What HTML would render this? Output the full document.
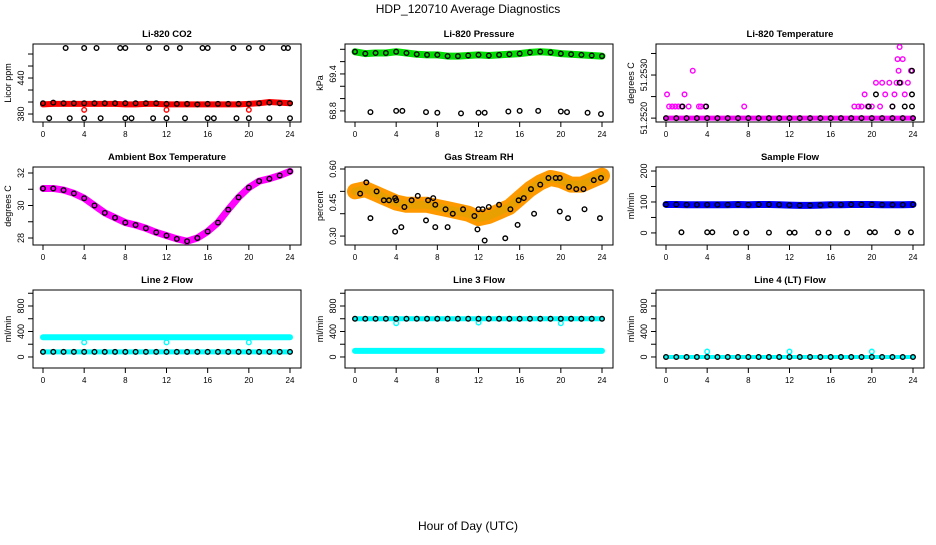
<!DOCTYPE html>
<html><head><meta charset="utf-8"><style>
body{margin:0;background:#fff;}
svg{font-family:"Liberation Sans",sans-serif;}
</style></head><body>
<svg id="c" width="936" height="540" viewBox="0 0 936 540">
<text x="468" y="13" text-anchor="middle" font-size="12">HDP_120710  Average Diagnostics</text>
<text x="468" y="530" text-anchor="middle" font-size="12">Hour of Day (UTC)</text>
</svg>
<script>
const hours=[0,1,2,3,4,5,6,7,8,9,10,11,12,13,14,15,16,17,18,19,20,21,22,23,24];
const xTicks=[0,4,8,12,16,20,24];
// CO2
const co2Band=[396,397,397,397,397,397,397,397,396,396,397,397,396,396,396,396,396,396,396,396,397,398,400,399,398];
const co2Black=[398,399,398,398,398,398,398,398,398,398,398,398,397,397,397,396,397,397,397,397,397,398,399,398,398];
const co2HiH=[2.2,4,5.2,7.5,8,10.3,12,13.3,15.5,16,18.5,20,21.3,23.4,23.8];
const co2LoH=[0.6,2.6,4,5.6,8,8.6,10.7,12,13.8,16,16.6,18.8,20,22,24];
const co2Hi=490, co2Lo=373;
const co2RedOutH=[4,12,20]; const co2RedOut=[387,387,387];
// Pressure
const presBand=[69.76,69.73,69.74,69.74,69.76,69.74,69.72,69.71,69.71,69.69,69.69,69.70,69.71,69.70,69.71,69.72,69.73,69.75,69.76,69.75,69.73,69.72,69.71,69.70,69.69];
const presOutH=[1.5,4,4.6,6.9,8,10.3,12,12.6,14.9,16,17.8,20,20.6,22.6,23.9];
const presOut=[68.78,68.8,68.8,68.78,68.77,68.76,68.77,68.77,68.79,68.8,68.8,68.79,68.78,68.77,68.75];
// Li-820 temperature
const tBase=51.2520;
const tMagH=[0.1,0.3,0.6,0.9,1.2,1.5,1.8,2.2,2.6,3.2,3.4,3.8,7.6,18.3,18.7,19.0,19.3,19.6,20.0,20.4,20.8,21.0,21.3,21.7,22.0,22.2,22.4,22.5,22.6,22.7,22.8,23.0,23.2,23.5,23.8];
const tMag=[51.25255,51.25227,51.25227,51.25227,51.25227,51.25227,51.25255,51.25227,51.25310,51.25227,51.25227,51.25227,51.25227,51.25227,51.25227,51.25227,51.25255,51.25227,51.25227,51.25282,51.25227,51.25282,51.25255,51.25282,51.25227,51.25255,51.25282,51.25337,51.25310,51.25365,51.25282,51.25337,51.25255,51.25282,51.25310];
const tBlkH=[1.6,3.9,19.7,20.4,22.0,22.7,23.2,23.9,23.9,23.9];
const tBlk=[51.25227,51.25227,51.25227,51.25255,51.25227,51.25282,51.25227,51.25227,51.25255,51.25310];
// Ambient box temperature
const ambBand=[31.05,31.05,30.95,30.75,30.45,30.0,29.55,29.25,28.95,28.8,28.6,28.35,28.15,27.95,27.8,28.0,28.4,28.95,29.75,30.5,31.1,31.5,31.65,31.85,32.1];
// Gas stream RH
const rhBand=[0.50,0.51,0.49,0.47,0.45,0.44,0.44,0.44,0.43,0.42,0.41,0.40,0.38,0.39,0.41,0.43,0.47,0.51,0.54,0.56,0.55,0.53,0.53,0.55,0.57];
const rhBlkH=[0.5,1.1,2.1,2.8,3.3,3.9,4.0,4.8,5.5,6.1,7.1,7.6,7.8,8.8,9.5,10.5,11.6,12.0,12.4,13.0,14.0,15.1,15.9,16.4,17.1,18.0,18.8,19.5,19.9,20.8,21.5,22.2,23.2,23.9,1.5,3.9,4.5,6.9,7.8,9.0,11.9,12.6,14.6,15.8,17.4,19.9,20.7,22.3,23.8];
const rhBlk=[0.49,0.54,0.50,0.46,0.46,0.47,0.46,0.43,0.46,0.48,0.46,0.47,0.44,0.42,0.40,0.42,0.39,0.42,0.42,0.43,0.44,0.42,0.46,0.47,0.51,0.53,0.56,0.56,0.56,0.52,0.51,0.51,0.55,0.56,0.38,0.32,0.34,0.37,0.34,0.34,0.33,0.28,0.29,0.35,0.40,0.41,0.38,0.42,0.38];
// Sample flow
const sfBand=[92,92,91,91,91,91,91,92,91,92,92,91,90,89,89,90,91,91,92,92,92,91,91,91,92];
const sfOutH=[1.5,4,4.5,6.8,7.8,10,12,12.5,14.8,15.8,17.6,19.8,20.3,22.5,23.8];
const sfOut=[2,2,2,1,1,1,1,1,1,1,1,2,2,2,2];
// Line flows
const l2Cyan=[310,310,310,310,310,310,310,310,310,310,310,310,310,310,310,310,310,310,310,310,310,310,310,310,310];
const l2Low=[80,80,80,80,80,80,80,80,80,80,80,80,80,80,80,80,80,80,80,80,80,80,80,80,80];
const l3Cyan=[600,600,600,600,600,600,600,600,600,600,600,600,600,600,600,600,600,600,600,600,600,600,600,600,600];
const l3Low=[95,95,95,95,95,95,95,95,95,95,95,95,95,95,95,95,95,95,95,95,95,95,95,95,95];
const l4Val=[0,0,0,0,0,0,0,0,0,0,0,0,0,0,0,0,0,0,0,0,0,0,0,0,0];
const dipH=[4,12,20];
const l2Dip=[230,230,230], l3Dip=[530,540,530], l4Dip=[85,85,85];

const NS="http://www.w3.org/2000/svg";
const svg=document.getElementById('c');
function mk(tag,attrs,parent){const e=document.createElementNS(NS,tag);for(const k in attrs)e.setAttribute(k,attrs[k]);(parent||svg).appendChild(e);return e;}
const colL=[33,345,656], rowT=[44,167,290], W=268, H=78;

function panel(c,r,title,ylab,ymin,ymax,ticks,labels,name){
  const L=colL[c],T=rowT[r];
  const g=mk('g',{});
  
  
  const p={L,T,g,x:h=>L+10+h/24*247,y:v=>T+H-(v-ymin)/(ymax-ymin)*H};
  const box=mk('rect',{x:L,y:T,width:W,height:H,fill:'none',stroke:'#000','stroke-width':1},g);
  
  
  const t=mk('text',{x:L+W/2,y:T-7,'text-anchor':'middle','font-size':9.5,'font-weight':'bold'},g);
  t.textContent=title;
  
  
  xTicks.forEach(h=>{
    mk('line',{x1:p.x(h),x2:p.x(h),y1:T+H,y2:T+H+5,stroke:'#000'},g);
    const tx=mk('text',{x:p.x(h),y:T+H+15,'text-anchor':'middle','font-size':8},g);
    tx.textContent=h;
    
    
  });
  ticks.forEach(v=>mk('line',{x1:L,x2:L-5,y1:p.y(v),y2:p.y(v),stroke:'#000'},g));
  labels.forEach(v=>{
    const yy=p.y(v[0]);
    const tx=mk('text',{x:L-9,y:yy,'text-anchor':'middle','font-size':9,transform:`rotate(-90 ${L-9} ${yy})`},g);
    tx.textContent=v[1];
    
    
  });
  const yt=mk('text',{x:L-22,y:T+H/2,'text-anchor':'middle','font-size':9,transform:`rotate(-90 ${L-22} ${T+H/2})`},g);
  yt.textContent=ylab;
  
  
  return p;
}
function band(p,xs,vals,color,w,name){
  const pl=mk('polyline',{points:xs.map((h,i)=>p.x(h)+','+p.y(vals[i])).join(' '),fill:'none',stroke:color,'stroke-width':w,'stroke-linejoin':'round','stroke-linecap':'round'},p.g);
  
  
}
function pts(p,xs,vals,color,name){
  xs.forEach((h,i)=>{
    const v=Array.isArray(vals)?vals[i]:vals;
    const ci=mk('circle',{cx:p.x(h),cy:p.y(v),r:2.3,fill:'none',stroke:color,'stroke-width':1.4},p.g);
    
    
  });
}
// CO2
let p=panel(0,0,'Li-820 CO2','Licor ppm',366.7,496.7,[380,400,420,440,460,480],[[380,'380'],[440,'440']],'co2-panel');
band(p,hours,co2Band,'#f00',6,'co2-band');
pts(p,co2RedOutH,co2RedOut,'#f00','co2-red-outlier');
pts(p,hours,co2Black,'#000','co2-point');
pts(p,co2HiH,co2Hi,'#000','co2-high-outlier');
pts(p,co2LoH,co2Lo,'#000','co2-low-outlier');
// Pressure
p=panel(1,0,'Li-820 Pressure','kPa',68.62,69.886,[68.8,69.0,69.2,69.4,69.6,69.8],[[68.8,'68.8'],[69.4,'69.4']],'pressure-panel');
band(p,hours,presBand,'#0d0',7,'pressure-band');
pts(p,hours,presBand,'#000','pressure-point');
pts(p,presOutH,presOut,'#000','pressure-outlier');
// Temperature
p=panel(2,0,'Li-820 Temperature','degrees C',51.25191,51.25372,[51.2520,51.2525,51.2530,51.2535],[[51.2520,'51.2520'],[51.2530,'51.2530']],'licor-temp-panel');
band(p,[0,24],[tBase,tBase],'#f0f',5,'licor-temp-band');
pts(p,tMagH,tMag,'#f0f','licor-temp-magenta');
pts(p,hours,tBase,'#000','licor-temp-point');
pts(p,tBlkH,tBlk,'#000','licor-temp-black');
// Ambient
p=panel(0,1,'Ambient Box Temperature','degrees C',27.57,32.37,[28,29,30,31,32],[[28,'28'],[30,'30'],[32,'32']],'ambient-temp-panel');
band(p,hours,ambBand,'#f0f',7,'ambient-band');
pts(p,hours,ambBand,'#000','ambient-point');
// RH
p=panel(1,1,'Gas Stream RH','percent',0.26,0.609,[0.3,0.4,0.5,0.6],[[0.3,'0.30'],[0.45,'0.45'],[0.6,'0.60']],'rh-panel');
band(p,hours,rhBand,'#f90',16,'rh-band-outer');
band(p,hours,rhBand,'#e8a000',8,'rh-band-inner');
pts(p,rhBlkH,rhBlk,'#000','rh-point');
// Sample flow
p=panel(2,1,'Sample Flow','ml/min',-39,213,[0,50,100,150,200],[[0,'0'],[100,'100'],[200,'200']],'sample-flow-panel');
band(p,hours,sfBand,'#00f',7,'sample-flow-band');
pts(p,hours,sfBand,'#000','sample-flow-point');
pts(p,sfOutH,sfOut,'#000','sample-flow-outlier');
// Line flows
const ft=[0,200,400,600,800,1000], fl=[[0,'0'],[400,'400'],[800,'800']];
p=panel(0,2,'Line 2 Flow','ml/min',-173,1051,ft,fl,'line2-flow-panel');
band(p,hours,l2Cyan,'#0ff',6,'line2-cyan-band');
band(p,hours,l2Low,'#0ff',5,'line2-low-band');
pts(p,dipH,l2Dip,'#0ff','line2-dip');
pts(p,hours,l2Low,'#000','line2-point');
p=panel(1,2,'Line 3 Flow','ml/min',-173,1051,ft,fl,'line3-flow-panel');
band(p,hours,l3Cyan,'#0ff',5,'line3-cyan-band');
band(p,hours,l3Low,'#0ff',6,'line3-low-band');
pts(p,dipH,l3Dip,'#0ff','line3-dip');
pts(p,hours,l3Cyan,'#000','line3-point');
p=panel(2,2,'Line 4 (LT) Flow','ml/min',-173,1051,ft,fl,'line4-flow-panel');
band(p,hours,l4Val,'#0ff',4,'line4-band');
pts(p,dipH,l4Dip,'#0ff','line4-dip');
pts(p,hours,l4Val,'#000','line4-point');
</script>
</body></html>
